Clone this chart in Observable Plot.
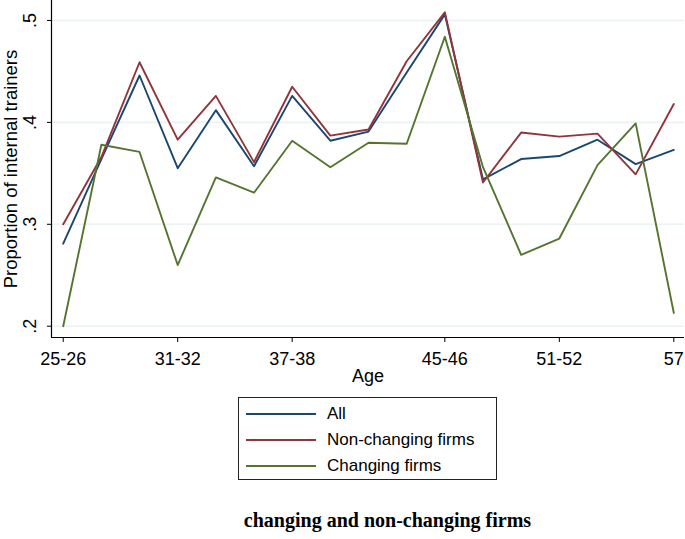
<!DOCTYPE html>
<html>
<head>
<meta charset="utf-8">
<script src="https://cdn.jsdelivr.net/npm/d3@7"></script>
<script src="https://cdn.jsdelivr.net/npm/@observablehq/plot@0.6"></script>
<style>
  html, body { margin: 0; padding: 0; background: #fff; }
  #wrap { position: relative; width: 685px; height: 539px; overflow: hidden; background: #fff; }
  #chart { position: absolute; left: 0; top: 0; }
  #legend { position: absolute; left: 238px; top: 397px; width: 259px; height: 83px; border: 1px solid #222; box-sizing: border-box; font-family: 'Liberation Sans', Arial, sans-serif; font-size: 17px; color: #000; }
  .row { position: absolute; left: 0; height: 20px; }
  .sw { position: absolute; left: 7px; width: 70px; height: 0; border-top: 2px solid; }
  .lab { position: absolute; left: 88px; white-space: nowrap; line-height: 20px; }
  #caption { position: absolute; left: 0; width: 775px; top: 509px; text-align: center; font-family: 'Liberation Serif', 'Times New Roman', serif; font-weight: bold; font-size: 20px; color: #000; }
</style>
</head>
<body>
<div id="wrap">
  <div id="chart"></div>
  <div id="legend"></div>
  <div id="caption">changing and non-changing firms</div>
</div>
<script>
const ages = ["25-26","27-28","29-30","31-32","33-34","35-36","37-38","39-40","41-42","43-44","45-46","47-48","49-50","51-52","53-54","55-56","57"];
const tickIdx = [0, 3, 6, 10, 13, 16];
const yTicks = [0.2, 0.3, 0.4, 0.5];
const seriesNames = ["All", "Non-changing firms", "Changing firms"];
const seriesColors = ["#1a476f", "#90353b", "#55752f"];
const allVals = [0.281,0.364,0.446,0.355,0.412,0.357,0.426,0.382,0.391,0.449,0.506,0.344,0.364,0.367,0.383,0.359,0.373];
const nonChanging = [0.300,0.366,0.459,0.383,0.426,0.361,0.435,0.387,0.393,0.460,0.508,0.341,0.390,0.386,0.389,0.349,0.418];
const changing = [0.200,0.378,0.371,0.260,0.346,0.331,0.382,0.356,0.380,0.379,0.484,0.356,0.270,0.286,0.358,0.399,0.213];
const seriesVals = [allVals, nonChanging, changing];

const rows = [];
seriesVals.forEach((vals, s) => vals.forEach((v, i) => rows.push({series: seriesNames[s], i, age: ages[i], v})));

const xDom = [-0.307, 16.28];
const yDom = [0.1889, 0.5196];
const yFmt = d => d3.format(".1f")(d).replace(/^0/, "");

const plot = Plot.plot({
  width: 685,
  height: 392,
  marginLeft: 51,
  marginRight: 1,
  marginTop: 0,
  marginBottom: 55,
  style: {fontFamily: "'Liberation Sans', Arial, sans-serif", fontSize: "18px", color: "#000", background: "#fff", overflow: "visible"},
  x: {type: "linear", domain: xDom},
  y: {domain: yDom},
  color: {domain: seriesNames, range: seriesColors},
  marks: [
    Plot.gridY(yTicks, {stroke: "#eaf2f3", strokeOpacity: 1, strokeWidth: 1.6}),
    Plot.axisX(tickIdx, {tickFormat: i => ages[i], tickSize: 5, tickPadding: 10, label: null, fontSize: 18}),
    Plot.axisY(yTicks, {tickFormat: () => "", tickSize: 4, label: null}),
    Plot.text(yTicks, {y: d => d, text: yFmt, frameAnchor: "left", textAnchor: "middle", rotate: -90, dx: -21, fontSize: 18}),
    Plot.text(["Age"], {frameAnchor: "bottom", textAnchor: "middle", dy: 44, fontSize: 18}),
    Plot.text(["Proportion of internal trainers"], {frameAnchor: "left", textAnchor: "middle", rotate: -90, dx: -40.5, dy: 0, fontSize: 18.5}),
    Plot.ruleX([xDom[0]], {stroke: "#000", strokeWidth: 1.2}),
    Plot.ruleY([yDom[0]], {stroke: "#000", strokeWidth: 1.2}),
    Plot.lineY(rows, {x: "i", y: "v", z: "series", stroke: "series", strokeWidth: 1.9})
  ]
});
document.getElementById("chart").appendChild(plot);

const legend = document.getElementById("legend");
const rowY = [6, 32, 58];
seriesNames.forEach((name, k) => {
  const r = document.createElement("div");
  r.className = "row";
  r.style.top = rowY[k] + "px";
  const sw = document.createElement("div");
  sw.className = "sw";
  sw.style.top = "9px";
  sw.style.borderTopColor = seriesColors[k];
  const lb = document.createElement("div");
  lb.className = "lab";
  lb.textContent = name;
  r.appendChild(sw);
  r.appendChild(lb);
  legend.appendChild(r);
});
</script>
</body>
</html>
